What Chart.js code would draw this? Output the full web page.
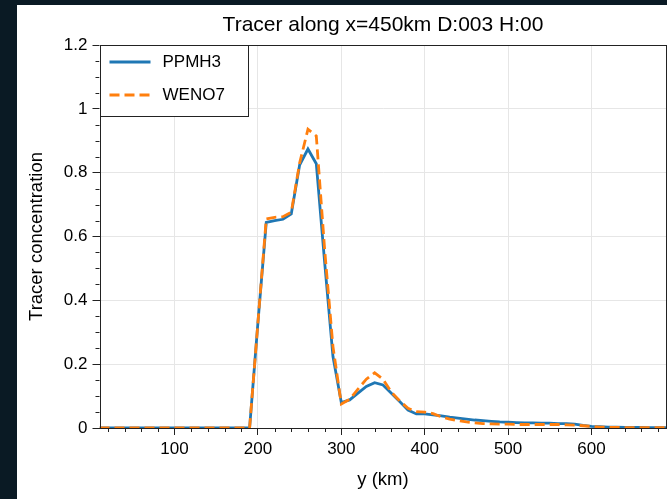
<!DOCTYPE html>
<html><head><meta charset="utf-8">
<script src="https://cdn.jsdelivr.net/npm/chart.js@4"></script>
<style>
html,body{margin:0;padding:0;background:#0a1a24;width:667px;height:499px;overflow:hidden}
#wrap{position:absolute;left:17px;top:5px;width:650px;height:494px;background:#fff}
canvas{display:block}
</style></head><body>
<div id="wrap"><canvas id="c" width="650" height="494"></canvas></div>
<script>
const titleText = 'Tracer along x=450km D:003 H:00';
const xLabel = 'y (km)';
const yLabel = 'Tracer concentration';
const seriesNames = ['PPMH3', 'WENO7'];

const yKm = [10,20,30,40,50,60,70,80,90,100,110,120,130,140,150,160,170,180,190,
  200,210,220,230,240,250,260,270,280,290,300,310,320,330,340,350,360,370,380,390,
  400,410,420,430,440,450,460,470,480,490,500,510,520,530,540,550,560,570,580,590,
  600,610,620,630,640,650,660,670,680,690];

const ppmh3 = [0,0,0,0,0,0,0,0,0,0,0,0,0,0,0,0,0,0,0,
  0.33,0.644,0.650,0.654,0.671,0.824,0.874,0.828,0.52,0.224,0.080,0.088,0.109,0.130,0.142,0.135,0.109,0.083,0.056,0.044,
  0.044,0.041,0.038,0.034,0.031,0.028,0.025,0.023,0.021,0.019,0.018,0.017,0.016,0.016,0.015,0.015,0.014,0.014,0.012,0.008,
  0.005,0.004,0.003,0.003,0.002,0.002,0.002,0.001,0.001,0.001];

const weno7 = [0,0,0,0,0,0,0,0,0,0,0,0,0,0,0,0,0,0,0,
  0.33,0.655,0.660,0.662,0.676,0.83,0.936,0.915,0.56,0.255,0.075,0.090,0.122,0.153,0.173,0.153,0.112,0.085,0.062,0.051,
  0.050,0.045,0.035,0.028,0.023,0.019,0.016,0.014,0.013,0.012,0.012,0.011,0.011,0.011,0.011,0.011,0.011,0.010,0.009,0.007,
  0.005,0.003,0.002,0.002,0.001,0.001,0.001,0.001,0.001,0.001];

const xTicks = [100,200,300,400,500,600];
const xTickLabels = ['100','200','300','400','500','600'];
const yTicks = [0,0.2,0.4,0.6,0.8,1,1.2];
const yTickLabels = ['0','0.2','0.4','0.6','0.8','1','1.2'];
const xMinor = [20,40,60,80,120,140,160,180,220,240,260,280,320,340,360,380,420,440,460,480,520,540,560,580,620,640,660,680];
const yMinor = [0.05,0.1,0.15,0.25,0.3,0.35,0.45,0.5,0.55,0.65,0.7,0.75,0.85,0.9,0.95,1.05,1.1,1.15];

const BLUE = '#1f77b4', ORANGE = '#ff7f0e';
const FONT = '"Liberation Sans", Arial, sans-serif';

const decor = {
  id: 'decor',
  afterDatasetsDraw(chart) {
    const ctx = chart.ctx, a = chart.chartArea;
    const xs = chart.scales.x, ys = chart.scales.y;
    ctx.save();
    ctx.strokeStyle = '#222';
    ctx.lineWidth = 1;
    ctx.strokeRect(Math.round(a.left) + 0.5, Math.round(a.top) + 0.5, Math.round(a.right - a.left) - 1, Math.round(a.bottom - a.top));
    ctx.beginPath();
    xMinor.forEach(v => {
      const p = Math.round(xs.getPixelForValue(v)) + 0.5;
      ctx.moveTo(p, a.bottom); ctx.lineTo(p, a.bottom + 4);
    });
    yMinor.forEach(v => {
      const p = Math.round(ys.getPixelForValue(v)) + 0.5;
      ctx.moveTo(a.left, p); ctx.lineTo(a.left - 4, p);
    });
    ctx.stroke();
    ctx.fillStyle = '#000';
    ctx.textAlign = 'center'; ctx.textBaseline = 'middle';
    ctx.font = '21px ' + FONT;
    ctx.fillText(titleText, (a.left + a.right) / 2, 20);
    ctx.font = '18.5px ' + FONT;
    ctx.fillText(xLabel, (a.left + a.right) / 2, 475);
    ctx.save();
    ctx.translate(20, (a.top + a.bottom) / 2);
    ctx.rotate(-Math.PI / 2);
    ctx.fillText(yLabel, 0, 0);
    ctx.restore();
    const lx = a.left, ly = a.top, lw = 148, lh = 71;
    ctx.fillStyle = '#fff';
    ctx.fillRect(lx, ly, lw, lh);
    ctx.strokeStyle = '#222';
    ctx.lineWidth = 1;
    ctx.strokeRect(Math.round(lx) + 0.5, ly + 0.5, lw, lh);
    const rows = [[seriesNames[0], BLUE, []], [seriesNames[1], ORANGE, [10, 5]]];
    rows.forEach((r, i) => {
      const y = ly + 17 + i * 33;
      ctx.strokeStyle = r[1]; ctx.lineWidth = 2.8; ctx.setLineDash(r[2]);
      ctx.beginPath(); ctx.moveTo(lx + 10, y); ctx.lineTo(lx + 51, y); ctx.stroke();
      ctx.setLineDash([]);
      ctx.fillStyle = '#000'; ctx.textAlign = 'left'; ctx.font = '17px ' + FONT;
      ctx.fillText(r[0], lx + 63, y);
    });
    ctx.restore();
  }
};

new Chart(document.getElementById('c'), {
  type: 'line',
  data: {
    datasets: [
      { label: seriesNames[0], data: yKm.map((x, i) => ({x, y: ppmh3[i]})), borderColor: BLUE, borderWidth: 2.8, pointRadius: 0, tension: 0, order: 2, clip: 0 },
      { label: seriesNames[1], data: yKm.map((x, i) => ({x, y: weno7[i]})), borderColor: ORANGE, borderWidth: 2.8, borderDash: [10, 5], pointRadius: 0, tension: 0, order: 1, clip: 0 }
    ]
  },
  options: {
    responsive: false, animation: false, devicePixelRatio: 1,
    layout: { padding: { top: 40, left: 0, right: 0.5, bottom: 0 } },
    plugins: { legend: { display: false }, title: { display: false }, tooltip: { enabled: false } },
    scales: {
      x: {
        type: 'linear', min: 10, max: 690,
        afterBuildTicks: s => { s.ticks = xTicks.map(v => ({ value: v })); },
        afterFit: s => { s.height = 71; },
        ticks: { autoSkip: false, maxRotation: 0, padding: 4, color: '#000', font: { family: FONT, size: 17 }, callback: (v, i) => xTickLabels[i] },
        grid: { color: '#e6e6e6', lineWidth: 1, tickLength: 7, tickColor: '#222', tickWidth: 1 },
        border: { display: false }
      },
      y: {
        type: 'linear', min: 0, max: 1.2,
        afterBuildTicks: s => { s.ticks = yTicks.map(v => ({ value: v })); },
        afterFit: s => { s.width = 82.5; },
        ticks: { autoSkip: false, padding: 5, color: '#000', font: { family: FONT, size: 17 }, callback: (v, i) => yTickLabels[i] },
        grid: { color: '#e6e6e6', lineWidth: 1, tickLength: 7, tickColor: '#222', tickWidth: 1 },
        border: { display: false }
      }
    }
  },
  plugins: [decor]
});
</script>
</body></html>
